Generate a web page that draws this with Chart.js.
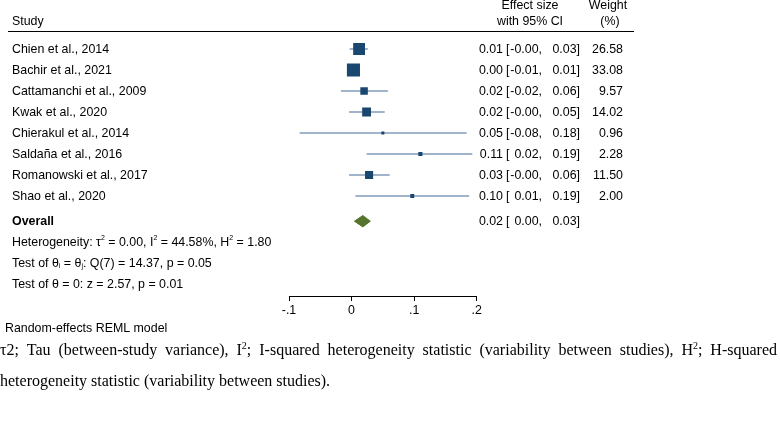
<!DOCTYPE html>
<html>
<head>
<meta charset="utf-8">
<script src="https://cdn.jsdelivr.net/npm/chart.js@4"></script>
<style>
  body { margin: 0; background: #fff; }
  canvas { display: block; }
</style>
</head>
<body>
<canvas id="forest" width="780" height="421"></canvas>
<script>
// study rows
const studies = ['Chien et al., 2014', 'Bachir et al., 2021', 'Cattamanchi et al., 2009', 'Kwak et al., 2020',
  'Chierakul et al., 2014', 'Saldaña et al., 2016', 'Romanowski et al., 2017', 'Shao et al., 2020'];
const effect = [0.012, 0.003, 0.020, 0.024, 0.050, 0.110, 0.028, 0.097];
const ciLow  = [-0.003, -0.006, -0.017, -0.004, -0.083, 0.024, -0.004, 0.006];
const ciHigh = [0.026, 0.012, 0.058, 0.053, 0.184, 0.193, 0.061, 0.188];
const weights = [26.58, 33.08, 9.57, 14.02, 0.96, 2.28, 11.50, 2.00];

// pooled estimate
const overallEffect = 0.018;
const overallLow = 0.0045;
const overallHigh = 0.030;

// x axis
const xTicks = [-0.1, 0, 0.1, 0.2];
const xTickLabels = ['-.1', '0', '.1', '.2'];

// heterogeneity stats (as printed)
const tau2 = '0.00', iSq = '44.58%', hSq = '1.80';
const qStat = '14.37', qDf = 7, qP = '0.05';
const zStat = '2.57', zP = '0.01';

const overallRow = 8.2;
const statRows = [9.2, 10.2, 11.2];

const navy = '#1a476f';
const ciColor = '#819cba';
const green = '#55752f';
const sans = '"Liberation Sans", Arial, sans-serif';
const serif = '"Liberation Serif", "Times New Roman", serif';
const fs = 12.4;

// draws text with super/subscript pieces, optionally justified to a width
function drawRich(ctx, parts, x, y, o) {
  const runs = [];
  parts.forEach(([t, kind]) => {
    if (kind !== 'n') { runs.push({ t, kind }); return; }
    t.split(/( )/).forEach(s => {
      if (s === ' ') runs.push({ gap: true });
      else if (s) runs.push({ t: s, kind });
    });
  });
  const fontOf = k => k === 'n' ? o.font : o.small;
  let wordsW = 0, gaps = 0;
  runs.forEach(r => {
    if (r.gap) { gaps++; return; }
    ctx.font = fontOf(r.kind);
    r.w = ctx.measureText(r.t).width;
    wordsW += r.w;
  });
  ctx.font = o.font;
  const spaceW = o.width ? (o.width - wordsW) / gaps : ctx.measureText(' ').width;
  let cx = x;
  runs.forEach(r => {
    if (r.gap) { cx += spaceW; return; }
    ctx.font = fontOf(r.kind);
    const dy = r.kind === 'sup' ? o.supDy : (r.kind === 'sub' ? o.subDy : 0);
    ctx.fillText(r.t, cx, y + dy);
    cx += r.w;
  });
}

const tablePlugin = {
  id: 'table',
  afterDraw(chart) {
    const ctx = chart.ctx;
    const ys = chart.scales.y;
    ctx.save();
    ctx.fillStyle = '#000';
    ctx.textBaseline = 'middle';
    ctx.font = fs + 'px ' + sans;

    // header
    ctx.textAlign = 'left';
    ctx.fillText('Study', 12, 22);
    ctx.textAlign = 'center';
    ctx.fillText('Effect size', 530, 6);
    ctx.fillText('with 95% CI', 530, 22);
    ctx.fillText('Weight', 608, 6);
    ctx.fillText('(%)', 610, 22);
    ctx.strokeStyle = '#000';
    ctx.lineWidth = 1;
    ctx.beginPath();
    ctx.moveTo(8, 31.5);
    ctx.lineTo(634, 31.5);
    ctx.stroke();

    const cols = (y, est, lo, hi) => {
      ctx.textAlign = 'right';
      ctx.fillText(est.toFixed(2), 503, y);
      ctx.textAlign = 'left';
      ctx.fillText('[', 506, y);
      ctx.textAlign = 'right';
      ctx.fillText(lo.toFixed(2) + ',', 542, y);
      ctx.fillText(hi.toFixed(2) + ']', 580, y);
    };

    studies.forEach((name, i) => {
      const y = ys.getPixelForValue(i) + 0.5;
      ctx.textAlign = 'left';
      ctx.fillText(name, 12, y);
      cols(y, effect[i], ciLow[i], ciHigh[i]);
      ctx.textAlign = 'right';
      ctx.fillText(weights[i].toFixed(2), 623, y);
    });

    const yo = ys.getPixelForValue(overallRow);
    ctx.textAlign = 'left';
    ctx.font = 'bold ' + fs + 'px ' + sans;
    ctx.fillText('Overall', 12, yo);
    ctx.font = fs + 'px ' + sans;
    cols(yo, overallEffect, overallLow, overallHigh);

    ctx.textAlign = 'left';
    const small = { font: fs + 'px ' + sans, small: '7px ' + sans, supDy: -4, subDy: 3 };
    drawRich(ctx, [['Heterogeneity: τ', 'n'], ['2', 'sup'], [' = ' + tau2 + ', I', 'n'], ['2', 'sup'],
      [' = ' + iSq + ', H', 'n'], ['2', 'sup'], [' = ' + hSq, 'n']], 12, ys.getPixelForValue(statRows[0]), small);
    drawRich(ctx, [['Test of θ', 'n'], ['i', 'sub'], [' = θ', 'n'], ['j', 'sub'],
      [': Q(' + qDf + ') = ' + qStat + ', p = ' + qP, 'n']], 12, ys.getPixelForValue(statRows[1]), small);
    drawRich(ctx, [['Test of θ = 0: z = ' + zStat + ', p = ' + zP, 'n']], 12, ys.getPixelForValue(statRows[2]), small);

    ctx.font = fs + 'px ' + sans;
    ctx.fillText('Random-effects REML model', 5, 329);

    // caption under the figure
    const cap = { font: '16px ' + serif, small: '10px ' + serif, supDy: -5, subDy: 3 };
    drawRich(ctx, [['τ2; Tau (between-study variance), I', 'n'], ['2', 'sup'],
      ['; I-squared heterogeneity statistic (variability between studies), H', 'n'], ['2', 'sup'],
      ['; H-squared', 'n']], 0, 351, Object.assign({ width: 777 }, cap));
    drawRich(ctx, [['heterogeneity statistic (variability between studies).', 'n']], 0, 382, cap);
    ctx.restore();
  }
};

const ciSets = studies.map((s, i) => ({
  type: 'scatter',
  showLine: true,
  data: [{ x: ciLow[i], y: i }, { x: ciHigh[i], y: i }],
  borderColor: ciColor,
  borderWidth: 1.5,
  pointRadius: 0,
  order: 3
}));

const diamondH = 0.27;

new Chart(document.getElementById('forest'), {
  type: 'scatter',
  data: {
    datasets: [
      ...ciSets,
      {
        type: 'scatter',
        data: studies.map((s, i) => ({ x: effect[i], y: i })),
        pointStyle: 'rect',
        pointRadius: weights.map(w => (2.1 * Math.sqrt(w) + 1) / Math.SQRT2),
        pointBackgroundColor: navy,
        pointBorderWidth: 0,
        order: 1
      },
      {
        type: 'scatter',
        showLine: true,
        data: [
          { x: overallLow, y: overallRow },
          { x: overallEffect, y: overallRow - diamondH },
          { x: overallHigh, y: overallRow },
          { x: overallEffect, y: overallRow + diamondH },
          { x: overallLow, y: overallRow }
        ],
        borderColor: green,
        borderWidth: 1,
        backgroundColor: green,
        fill: 'shape',
        pointRadius: 0,
        order: 1
      }
    ]
  },
  options: {
    responsive: false,
    animation: false,
    events: [],
    layout: { padding: { left: 289, right: 303.3, top: 28, bottom: 101.1 } },
    plugins: { legend: { display: false }, tooltip: { enabled: false } },
    scales: {
      x: {
        type: 'linear',
        min: -0.1,
        max: 0.2,
        afterBuildTicks: s => { s.ticks = xTicks.map(v => ({ value: v })); },
        ticks: {
          callback: (v, i) => xTickLabels[i],
          color: '#000',
          font: { family: sans, size: fs },
          padding: 2,
          maxRotation: 0
        },
        grid: { drawOnChartArea: false, drawTicks: true, tickLength: 5, color: '#000' },
        border: { display: true, color: '#000', width: 1 }
      },
      y: {
        type: 'linear',
        reverse: true,
        min: -1,
        max: 11.762,
        display: false
      }
    }
  },
  plugins: [tablePlugin]
});
</script>
</body>
</html>
